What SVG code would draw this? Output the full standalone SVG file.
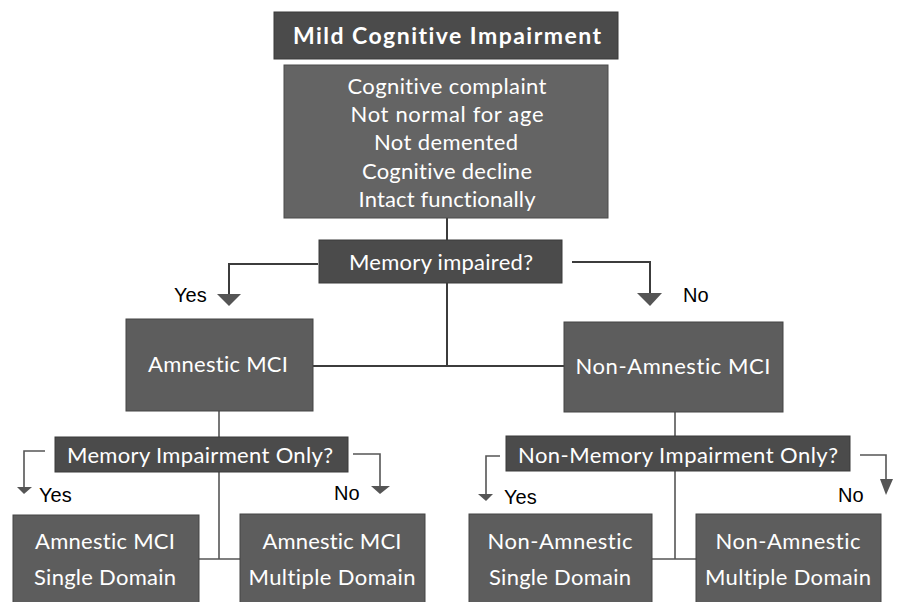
<svg xmlns="http://www.w3.org/2000/svg" width="898" height="602" viewBox="0 0 898 602">
<style>
.box{fill:#5d5d5d;stroke:#444;stroke-width:1}
.dark{fill:#4b4b4b;stroke:#3a3a3a;stroke-width:1}
.mid{fill:#646464;stroke:#4a4a4a;stroke-width:1}
.t{font-family:Lato,"Open Sans","Liberation Sans",sans-serif;font-size:22px;fill:#fff;text-anchor:middle;font-variant-ligatures:none}
.tb{font-family:Lato,"Open Sans","Liberation Sans",sans-serif;font-size:23px;font-weight:bold;fill:#fff;text-anchor:middle;font-variant-ligatures:none}
.lbl{font-family:"Liberation Sans",Arial,sans-serif;font-size:20px;fill:#000}
.ln{fill:none;stroke:#3c3c3c;stroke-width:2}
.ln2{fill:none;stroke:#555;stroke-width:1.6}
.ah{fill:#555}
</style>
<rect width="898" height="602" fill="#fff"/>
<g id="connectors">
<line class="ln" x1="447" y1="218" x2="447" y2="240"/>
<polyline class="ln" points="318,264 229,264 229,296"/>
<polygon class="ah" points="217,294 241,294 229,306"/>
<polyline class="ln" points="572,262 650,262 650,295"/>
<polygon class="ah" points="637,293 662,293 650,306"/>
<line class="ln" x1="447" y1="283" x2="447" y2="366"/>
<line class="ln" x1="313" y1="366" x2="564" y2="366"/>
<line class="ln2" x1="219" y1="411" x2="219" y2="437"/>
<polyline class="ln2" points="45,451 24,451 24,488"/>
<polygon class="ah" points="17,487 32,487 24,494"/>
<polyline class="ln2" points="353,454 380,454 380,488"/>
<polygon class="ah" points="371,486 390,486 380,494"/>
<line class="ln2" x1="219" y1="472" x2="219" y2="559"/>
<line class="ln2" x1="199" y1="559" x2="240" y2="559"/>
<line class="ln2" x1="675" y1="412" x2="675" y2="436"/>
<polyline class="ln2" points="500,456 486,456 486,495"/>
<polygon class="ah" points="478,494 493,494 486,501"/>
<polyline class="ln2" points="860,455 886,455 886,482"/>
<polygon class="ah" points="880,479 893,479 886,495"/>
<line class="ln2" x1="675" y1="471" x2="675" y2="559"/>
<line class="ln2" x1="652" y1="559" x2="696" y2="559"/>
</g>
<g id="labels">
<text class="lbl" x="174" y="302">Yes</text>
<text class="lbl" x="683" y="302">No</text>
<text class="lbl" x="39" y="502">Yes</text>
<text class="lbl" x="334" y="500">No</text>
<text class="lbl" x="504" y="504">Yes</text>
<text class="lbl" x="838" y="502">No</text>
</g>
<g id="title">
<rect class="dark" x="274" y="12" width="344" height="47"/>
<text class="tb" x="447" y="44" textLength="308">Mild Cognitive Impairment</text>
</g>
<g id="criteria">
<rect class="mid" x="284" y="65" width="324" height="153"/>
<text class="t" x="447" y="94" textLength="199">Cognitive complaint</text>
<text class="t" x="447" y="122" textLength="193">Not normal for age</text>
<text class="t" x="446" y="150" textLength="144">Not demented</text>
<text class="t" x="447" y="179" textLength="170">Cognitive decline</text>
<text class="t" x="447" y="207" textLength="177">Intact functionally</text>
</g>
<g id="memory-impaired">
<rect class="dark" x="319" y="240" width="243" height="43"/>
<text class="t" x="441" y="270" textLength="184">Memory impaired?</text>
</g>
<g id="amnestic">
<rect class="box" x="126" y="319" width="187" height="92"/>
<text class="t" x="218" y="372" textLength="140">Amnestic MCI</text>
</g>
<g id="non-amnestic">
<rect class="box" x="564" y="322" width="219" height="90"/>
<text class="t" x="673" y="374" textLength="195">Non-Amnestic MCI</text>
</g>
<g id="memory-only">
<rect class="dark" x="55" y="437" width="293" height="35"/>
<text class="t" x="200" y="463" textLength="266">Memory Impairment Only?</text>
</g>
<g id="non-memory-only">
<rect class="dark" x="506" y="436" width="344" height="35"/>
<text class="t" x="678" y="463" textLength="320">Non-Memory Impairment Only?</text>
</g>
<g id="amnestic-single">
<rect class="box" x="13" y="515" width="186" height="92"/>
<text class="t" x="105" y="549" textLength="140">Amnestic MCI</text>
<text class="t" x="105" y="585" textLength="142">Single Domain</text>
</g>
<g id="amnestic-multiple">
<rect class="box" x="240" y="514" width="185" height="93"/>
<text class="t" x="332" y="549" textLength="139">Amnestic MCI</text>
<text class="t" x="332" y="585" textLength="167">Multiple Domain</text>
</g>
<g id="non-amnestic-single">
<rect class="box" x="469" y="514" width="183" height="93"/>
<text class="t" x="560" y="549" textLength="145">Non-Amnestic</text>
<text class="t" x="560" y="585" textLength="142">Single Domain</text>
</g>
<g id="non-amnestic-multiple">
<rect class="box" x="696" y="514" width="185" height="93"/>
<text class="t" x="788" y="549" textLength="145">Non-Amnestic</text>
<text class="t" x="788" y="585" textLength="166">Multiple Domain</text>
</g>
</svg>
